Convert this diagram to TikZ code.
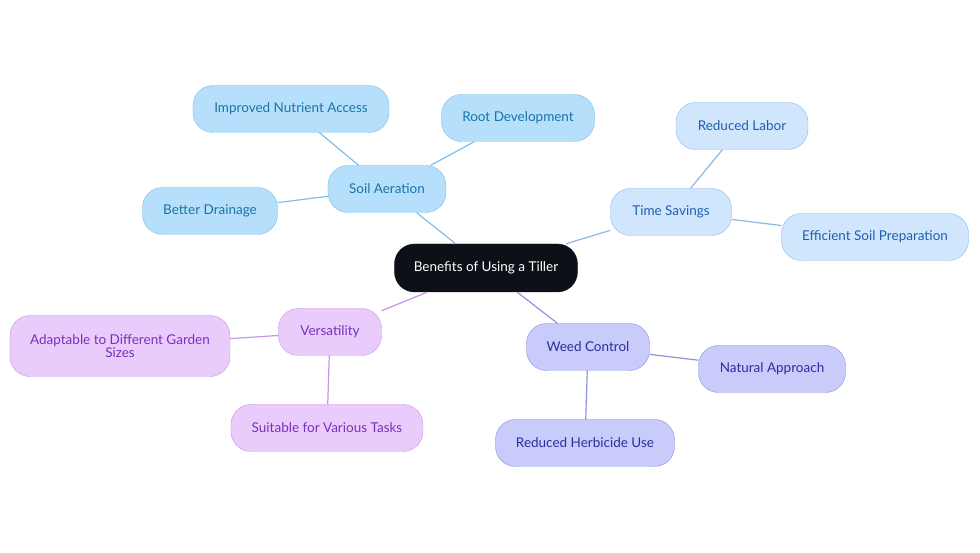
\documentclass[tikz,border=0pt]{standalone}
\usepackage{fontspec}
\setmainfont{Lato}
\usetikzlibrary{positioning}

\definecolor{soilfill}{HTML}{B5DFFA}
\definecolor{soildraw}{HTML}{7DBFE8}
\definecolor{soiltext}{HTML}{1A74A8}
\definecolor{timefill}{HTML}{D0E6FC}
\definecolor{timedraw}{HTML}{8DB8E6}
\definecolor{timetext}{HTML}{1F5FAE}
\definecolor{versfill}{HTML}{EACCFC}
\definecolor{versdraw}{HTML}{C496E6}
\definecolor{verstext}{HTML}{7A2FBC}
\definecolor{weedfill}{HTML}{C9CBFB}
\definecolor{weeddraw}{HTML}{8E93DE}
\definecolor{weedtext}{HTML}{2B2E9C}
\definecolor{hubfill}{HTML}{0D1117}

\begin{document}
\begin{tikzpicture}[
    on grid,
    every node/.style={
        rectangle,
        rounded corners=20pt,
        minimum height=47pt,
        inner xsep=18pt,
        font=\fontsize{13.5}{15}\selectfont,
        align=center
    },
    hub/.style={fill=hubfill, draw=hubfill, text=white, minimum width=183pt, minimum height=48pt},
    soil/.style={fill=soilfill, draw=soildraw, text=soiltext},
    time/.style={fill=timefill, draw=timedraw, text=timetext},
    vers/.style={fill=versfill, draw=versdraw, text=verstext},
    weed/.style={fill=weedfill, draw=weeddraw, text=weedtext}
]
\useasboundingbox (-486pt,268pt) rectangle (494pt,-285pt);

% ---------------- NODES ----------------
\node[hub]                    (BEN)                                   {Benefits of Using a Tiller};

\node[soil, minimum width=118pt] (SOA) [above left  =79pt and 99pt  of BEN] {Soil Aeration};
\node[soil, minimum width=196pt] (INA) [above left  =80pt and 96pt  of SOA] {Improved Nutrient Access};
\node[soil, minimum width=153pt] (RDV) [above right =71pt and 131pt of SOA] {Root Development};
\node[soil, minimum width=135pt] (BDR) [below left  =22pt and 177pt of SOA] {Better Drainage};

\node[time, minimum width=121pt] (TSV) [above right =56pt and 185pt of BEN] {Time Savings};
\node[time, minimum width=132pt] (RLB) [above right =86pt and 71pt  of TSV] {Reduced Labor};
\node[time, minimum width=187pt] (ESP) [below right =25pt and 204pt of TSV] {Efficient Soil Preparation};

\node[vers, minimum width=103pt] (VRS) [below left  =64pt and 156pt of BEN] {Versatility};
\node[vers, minimum width=220pt, minimum height=61pt] (ADP) [below left =14pt and 210pt of VRS] {Adaptable to Different Garden\\[-2pt]Sizes};
\node[vers, minimum width=192pt] (SVT) [below left  =96pt and 3pt   of VRS] {Suitable for Various Tasks};

\node[weed, minimum width=123pt] (WCT) [below right =79pt and 102pt of BEN] {Weed Control};
\node[weed, minimum width=147pt] (NAP) [below right =22pt and 184pt of WCT] {Natural Approach};
\node[weed, minimum width=179pt] (RHU) [below left  =96pt and 3pt   of WCT] {Reduced Herbicide Use};

% ---------------- BRANCHES ----------------
\draw[soildraw, line width=1.2pt] (BEN) -- (SOA);
\draw[soildraw, line width=1.2pt] (SOA) -- (INA);
\draw[soildraw, line width=1.2pt] (SOA) -- (RDV);
\draw[soildraw, line width=1.2pt] (SOA) -- (BDR);

\draw[timedraw, line width=1.2pt] (BEN) -- (TSV);
\draw[timedraw, line width=1.2pt] (TSV) -- (RLB);
\draw[timedraw, line width=1.2pt] (TSV) -- (ESP);

\draw[versdraw, line width=1.2pt] (BEN) -- (VRS);
\draw[versdraw, line width=1.2pt] (VRS) -- (ADP);
\draw[versdraw, line width=1.2pt] (VRS) -- (SVT);

\draw[weeddraw, line width=1.2pt] (BEN) -- (WCT);
\draw[weeddraw, line width=1.2pt] (WCT) -- (NAP);
\draw[weeddraw, line width=1.2pt] (WCT) -- (RHU);

\end{tikzpicture}
\end{document}
